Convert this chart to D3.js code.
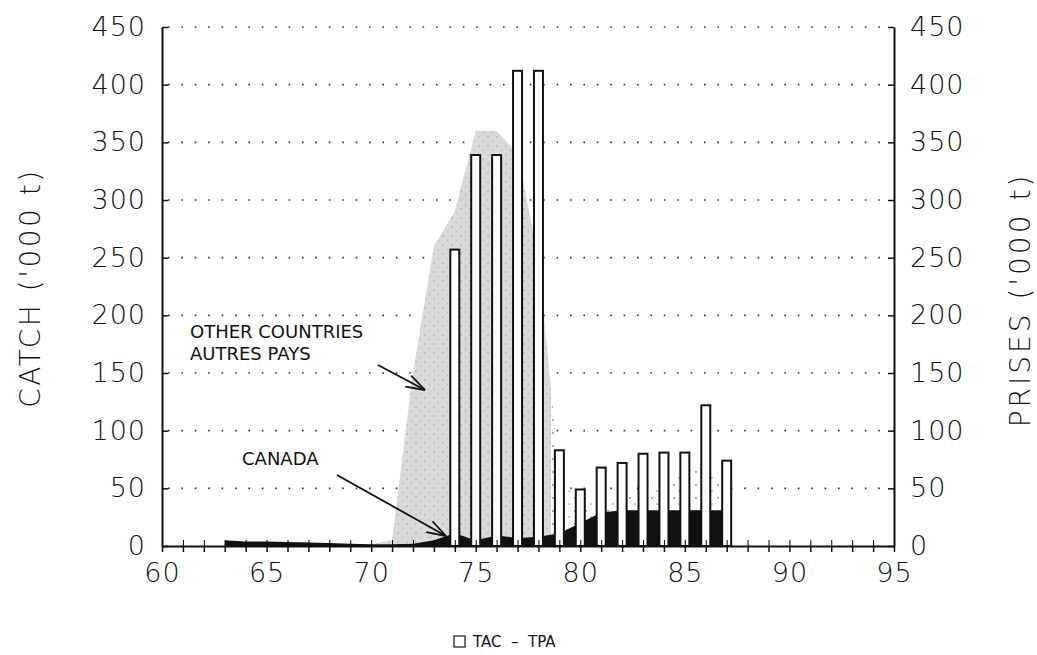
<!DOCTYPE html>
<html>
<head>
<meta charset="utf-8">
<script src="https://cdn.jsdelivr.net/npm/d3@7"></script>
<style>
  body { margin: 0; background: #fff; }
  text { font-family: "DejaVu Sans", sans-serif; fill: #111; }
</style>
</head>
<body>
<div id="chart"></div>
<script>

// catch by year ('000 t)
const years      = [63, 64, 65, 66, 67, 68, 69, 70, 71, 72, 73, 74, 75, 76, 77, 78, 79, 80, 81, 82, 83, 84, 85, 86, 87];
const canada     = [5, 4, 4, 3.5, 3, 2.5, 2, 1.5, 1.5, 2, 5, 11, 5, 9, 7, 8, 11, 20, 29, 31, 31, 31, 31, 31, 31];
const totalCatch = [5, 4, 4, 3.5, 3, 2.5, 2, 1.5, 5, 150, 260, 290, 360, 360, 340, 250, 60, 40, 38, 40, 48, 57, 68, 68, 60];

// TAC - TPA bars
const tacYears  = [74, 75, 76, 77, 78, 79, 80, 81, 82, 83, 84, 85, 86, 87];
const tacValues = [257, 339, 339, 412, 412, 83, 49, 68, 72, 80, 81, 81, 122, 74];

const yTicks = [0, 50, 100, 150, 200, 250, 300, 350, 400, 450];
const xTicks = [60, 65, 70, 75, 80, 85, 90, 95];

const width = 1037,
      height = 655,
      margin = ({ top: 27, right: 143, bottom: 109, left: 162 });

let svg = d3.select("#chart")
    .append("svg")
    .attr("width", width)
    .attr("height", height);

let x = d3.scaleLinear()
    .domain([60, 95])
    .range([margin.left, width - margin.right]);

let y = d3.scaleLinear()
    .domain([0, 450])
    .range([height - margin.bottom, margin.top]);

let defs = svg.append("defs");

// speckled grey for the big foreign catch
let grey = defs.append("pattern")
    .attr("id", "grey")
    .attr("patternUnits", "userSpaceOnUse")
    .attr("width", 9).attr("height", 9);
grey.append("rect").attr("width", 9).attr("height", 9).attr("fill", "#dadada");
grey.append("circle").attr("cx", 2).attr("cy", 2).attr("r", 0.9).attr("fill", "#b5b5b5");
grey.append("circle").attr("cx", 6.5).attr("cy", 6.5).attr("r", 0.9).attr("fill", "#c2c2c2");

// sparse dots for the later years
let dots = defs.append("pattern")
    .attr("id", "dots")
    .attr("patternUnits", "userSpaceOnUse")
    .attr("width", 11).attr("height", 13);
dots.append("rect").attr("width", 11).attr("height", 13).attr("fill", "#fff");
dots.append("circle").attr("cx", 3).attr("cy", 4).attr("r", 0.8).attr("fill", "#444");
dots.append("circle").attr("cx", 8).attr("cy", 10).attr("r", 0.7).attr("fill", "#666");

defs.append("clipPath")
    .attr("id", "greyClip")
    .append("rect")
    .attr("x", 0).attr("y", 0)
    .attr("width", x(78.6)).attr("height", height);

// dotted grid lines
svg.append("g")
    .selectAll("line")
    .data(yTicks.filter(d => d > 0))
    .join("line")
    .attr("x1", x(60) + 6)
    .attr("x2", x(95) - 6)
    .attr("y1", d => y(d))
    .attr("y2", d => y(d))
    .attr("stroke", "#333")
    .attr("stroke-width", 1.6)
    .attr("stroke-dasharray", "1.6 11.8");

const rows = years.map((yr, i) => ({ yr: yr, can: canada[i], tot: totalCatch[i] }));

let otherArea = d3.area()
    .x(d => x(d.yr))
    .y0(d => y(d.can))
    .y1(d => y(d.tot));

svg.append("path") // other countries, dotted
    .datum(rows)
    .attr("d", otherArea)
    .attr("fill", "url(#dots)");

svg.append("path") // other countries, grey part
    .datum(rows)
    .attr("d", otherArea)
    .attr("clip-path", "url(#greyClip)")
    .attr("fill", "url(#grey)");

svg.append("path") // canada
    .datum(rows)
    .attr("d", d3.area().x(d => x(d.yr)).y0(y(0)).y1(d => y(d.can)))
    .attr("fill", "#111");

// TAC bars
const barW = 9;
svg.append("g")
    .selectAll("rect")
    .data(tacYears)
    .join("rect")
    .attr("x", d => x(d) - barW / 2)
    .attr("width", barW)
    .attr("y", (d, i) => y(tacValues[i]))
    .attr("height", (d, i) => y(0) - y(tacValues[i]))
    .attr("fill", "#fff")
    .attr("stroke", "#111")
    .attr("stroke-width", 2);

// axes
let leftAxis = svg.append("g")
    .attr("transform", `translate(${margin.left},0)`)
    .call(d3.axisLeft(y).tickValues(yTicks).tickSizeInner(-6).tickSizeOuter(0).tickPadding(16));

let rightAxis = svg.append("g")
    .attr("transform", `translate(${width - margin.right},0)`)
    .call(d3.axisRight(y).tickValues(yTicks).tickSizeInner(-6).tickSizeOuter(0).tickPadding(16));

let bottomAxis = svg.append("g")
    .attr("transform", `translate(0,${y(0)})`)
    .call(d3.axisBottom(x).tickValues(d3.range(60, 96)).tickSize(6).tickSizeOuter(0).tickPadding(11)
        .tickFormat(d => xTicks.includes(d) ? d : ""));

svg.append("g") // upward half of the year ticks
    .attr("transform", `translate(0,${y(0)})`)
    .call(d3.axisBottom(x).tickValues(d3.range(61, 95)).tickSize(-6).tickSizeOuter(0).tickFormat(""))
    .select(".domain").remove();

for (let a of [leftAxis, rightAxis, bottomAxis]) {
    a.select(".domain").attr("stroke", "#111").attr("stroke-width", 2);
    a.selectAll(".tick line").attr("stroke", "#111").attr("stroke-width", 1.5);
    a.selectAll("text")
        .attr("font-family", "DejaVu Sans, sans-serif")
        .attr("font-weight", 200)
        .attr("font-size", 27)
        .attr("letter-spacing", 1)
        .attr("fill", "#111");
}

// axis titles
svg.append("text")
    .attr("transform", `translate(40,288) rotate(-90)`)
    .attr("text-anchor", "middle")
    .attr("font-weight", 200)
    .attr("font-size", 28)
    .attr("letter-spacing", 2.5)
    .text("CATCH ('000 t)");

svg.append("text")
    .attr("transform", `translate(1030,300) rotate(-90)`)
    .attr("text-anchor", "middle")
    .attr("font-weight", 200)
    .attr("font-size", 28)
    .attr("letter-spacing", 3)
    .text("PRISES ('000 t)");

// annotations
const note = svg.append("g").attr("font-size", 18).attr("font-family", "Liberation Sans, Arial, sans-serif");
note.append("text").attr("x", 190).attr("y", 338).text("OTHER COUNTRIES");
note.append("text").attr("x", 190).attr("y", 360).text("AUTRES PAYS");
note.append("text").attr("x", 242).attr("y", 465).text("CANADA");

function arrow(x1, y1, x2, y2) {
    const ang = Math.atan2(y2 - y1, x2 - x1);
    svg.append("line")
        .attr("x1", x1).attr("y1", y1).attr("x2", x2).attr("y2", y2)
        .attr("stroke", "#111").attr("stroke-width", 1.8);
    for (let s of [-0.32, 0.32]) {
        svg.append("line")
            .attr("x1", x2).attr("y1", y2)
            .attr("x2", x2 - 20 * Math.cos(ang + s))
            .attr("y2", y2 - 20 * Math.sin(ang + s))
            .attr("stroke", "#111").attr("stroke-width", 1.8);
    }
}
arrow(378, 365, 425, 390);
arrow(337, 475, 446, 536);

// legend
svg.append("rect")
    .attr("x", 454).attr("y", 636)
    .attr("width", 11).attr("height", 11)
    .attr("fill", "#fff").attr("stroke", "#111").attr("stroke-width", 1.2);

svg.append("text")
    .attr("x", 473).attr("y", 647)
    .attr("font-size", 15)
    .attr("font-family", "Liberation Sans, Arial, sans-serif")
    .attr("xml:space", "preserve")
    .text("TAC  –  TPA");

</script>
</body>
</html>
